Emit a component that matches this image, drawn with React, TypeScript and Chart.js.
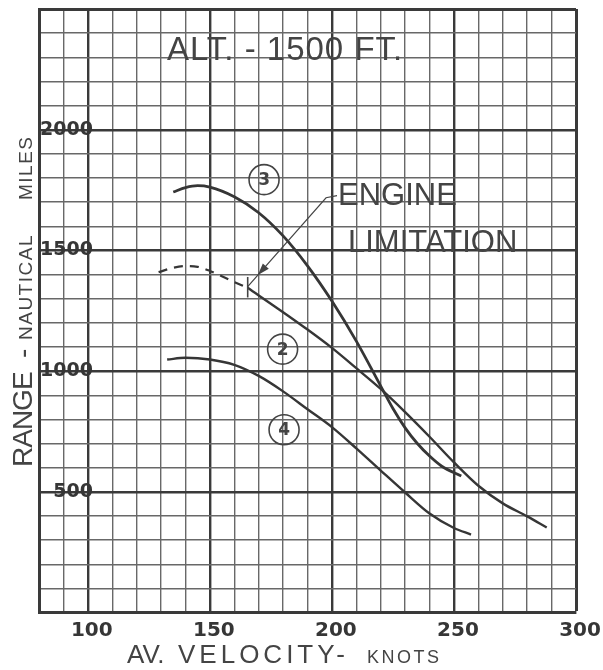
import React, { useEffect, useRef } from 'react';
import { Chart, registerables } from 'chart.js';

Chart.register(...registerables);

// ---- data ----
const curve3Knots = [135, 140, 145, 150, 160, 170, 180, 190, 200, 210, 220, 225, 230, 235, 240, 245, 253];
const curve3Range = [1742, 1760, 1768, 1762, 1722, 1656, 1560, 1436, 1290, 1124, 938, 845, 765, 700, 648, 606, 565];

const curve2DashKnots = [129, 135, 140, 145, 150, 158, 165.5];
const curve2DashRange = [1410, 1428, 1435, 1432, 1415, 1378, 1345];

const curve2Knots = [165.5, 180, 190, 200, 210, 220, 230, 240, 250, 260, 270, 280, 288];
const curve2Range = [1345, 1244, 1172, 1096, 1012, 926, 830, 728, 622, 525, 452, 398, 352];

const curve4Knots = [132.5, 140, 150, 160, 170, 180, 190, 200, 210, 220, 230, 240, 250, 257];
const curve4Range = [1048, 1055, 1048, 1026, 980, 916, 842, 768, 680, 588, 497, 410, 350, 323];

const xTickLabels = [100, 150, 200, 250, 300];
const yTickLabels = [500, 1000, 1500, 2000];

const titleText = 'ALT. - 1500 FT.';
const engineLimitKnots = 165.5;
const engineLimitRange = 1345;

const INK = '#363636';
const LETTER = '#444444';
const THIN = '#686868';
const THICK = '#3a3a3a';

const toPoints = (xs: number[], ys: number[]) => xs.map((x, i) => ({ x, y: ys[i] }));

const annotations = {
  id: 'annotations',
  beforeDraw(chart: any) {
    const { ctx, width, height } = chart;
    ctx.save();
    ctx.fillStyle = '#ffffff';
    ctx.fillRect(0, 0, width, height);
    ctx.restore();
  },
  afterDatasetsDraw(chart: any) {
    const { ctx } = chart;
    const xs = chart.scales.x;
    const ys = chart.scales.y;
    const px = (v: number) => xs.getPixelForValue(v);
    const py = (v: number) => ys.getPixelForValue(v);
    ctx.save();
    ctx.fillStyle = LETTER;
    ctx.strokeStyle = LETTER;
    ctx.textBaseline = 'alphabetic';

    // title
    ctx.font = '33px "Liberation Sans"';
    ctx.textAlign = 'center';
    (ctx as any).letterSpacing = '1px';
    ctx.fillText(titleText, px(180.8), py(2290));

    // engine limitation text
    ctx.textAlign = 'left';
    (ctx as any).letterSpacing = '0px';
    ctx.font = '31px "Liberation Sans"';
    ctx.fillText('ENGINE', px(202.5), py(1690));
    ctx.fillText('LIMITATION', px(206.6), py(1495));

    // leader line with arrow
    const p0 = [px(202.1), py(1727)];
    const p1 = [px(197.6), py(1718)];
    const p2 = [px(engineLimitKnots), py(engineLimitRange + 5)];
    ctx.lineWidth = 1.2;
    ctx.beginPath();
    ctx.moveTo(p0[0], p0[1]);
    ctx.lineTo(p1[0], p1[1]);
    ctx.lineTo(p2[0], p2[1]);
    ctx.stroke();
    const dx = p2[0] - p1[0];
    const dy = p2[1] - p1[1];
    const len = Math.hypot(dx, dy);
    const ux = dx / len, uy = dy / len;
    const tip = [p1[0] + dx * 0.87, p1[1] + dy * 0.87];
    const base = [tip[0] - ux * 12, tip[1] - uy * 12];
    ctx.beginPath();
    ctx.moveTo(tip[0], tip[1]);
    ctx.lineTo(base[0] - uy * 4, base[1] + ux * 4);
    ctx.lineTo(base[0] + uy * 4, base[1] - ux * 4);
    ctx.closePath();
    ctx.fill();

    // engine limit tick
    ctx.lineWidth = 1.6;
    ctx.beginPath();
    ctx.moveTo(px(engineLimitKnots), py(1390));
    ctx.lineTo(px(engineLimitKnots), py(1305));
    ctx.stroke();

    // circled curve numbers
    const circles: [string, number, number][] = [
      ['3', 172.2, 1793],
      ['2', 179.8, 1091],
      ['4', 180.4, 757],
    ];
    ctx.font = 'bold 17px "DejaVu Sans"';
    ctx.textAlign = 'center';
    ctx.textBaseline = 'middle';
    ctx.lineWidth = 1.6;
    for (const [label, kx, ry] of circles) {
      const cx = px(kx), cy = py(ry);
      ctx.beginPath();
      ctx.arc(cx, cy, 15, 0, Math.PI * 2);
      ctx.stroke();
      ctx.fillText(label, cx, cy + 1);
    }
    ctx.restore();
  },
  afterDraw(chart: any) {
    const { ctx } = chart;
    ctx.save();
    ctx.fillStyle = LETTER;
    ctx.textBaseline = 'alphabetic';
    ctx.textAlign = 'left';

    // x axis title
    ctx.font = '26px "Liberation Sans"';
    (ctx as any).letterSpacing = '0px';
    ctx.fillText('AV.', 127, 663);
    (ctx as any).letterSpacing = '4px';
    ctx.fillText('VELOCITY-', 178, 663);
    ctx.font = '18px "Liberation Sans"';
    (ctx as any).letterSpacing = '2.5px';
    ctx.fillText('KNOTS', 367, 663);

    // y axis title (rotated)
    ctx.translate(32, 467);
    ctx.rotate(-Math.PI / 2);
    ctx.font = '28px "Liberation Sans"';
    (ctx as any).letterSpacing = '-1px';
    ctx.fillText('RANGE', 0, 0);
    (ctx as any).letterSpacing = '0px';
    ctx.fillText('-', 109, 0);
    ctx.font = '19px "Liberation Sans"';
    (ctx as any).letterSpacing = '1.5px';
    ctx.fillText('NAUTICAL', 127, 0);
    ctx.fillText('MILES', 267, 0);
    ctx.restore();
  },
};

export default function App() {
  const canvasRef = useRef<HTMLCanvasElement | null>(null);

  useEffect(() => {
    if (!canvasRef.current) return;
    const lineBase = {
      showLine: true,
      pointRadius: 0,
      borderColor: INK,
      backgroundColor: INK,
      cubicInterpolationMode: 'monotone' as const,
      fill: false,
    };
    const chart = new Chart(canvasRef.current, {
      type: 'scatter',
      data: {
        datasets: [
          { ...lineBase, label: 'Curve 3', data: toPoints(curve3Knots, curve3Range), borderWidth: 2.8 },
          { ...lineBase, label: 'Curve 2 (beyond engine limit)', data: toPoints(curve2DashKnots, curve2DashRange), borderWidth: 2.2, borderDash: [9, 7] },
          { ...lineBase, label: 'Curve 2', data: toPoints(curve2Knots, curve2Range), borderWidth: 2.4 },
          { ...lineBase, label: 'Curve 4', data: toPoints(curve4Knots, curve4Range), borderWidth: 2.4 },
        ],
      },
      options: {
        responsive: false,
        animation: false,
        devicePixelRatio: 1,
        layout: { padding: { left: 0, right: 27, top: 9, bottom: 0 } },
        plugins: {
          legend: { display: false },
          tooltip: { enabled: false },
          title: { display: false },
        },
        scales: {
          x: {
            type: 'linear',
            min: 80,
            max: 300,
            ticks: {
              stepSize: 10,
              autoSkip: false,
              maxRotation: 0,
              padding: 6,
              labelOffset: 4,
              color: INK,
              font: { family: 'DejaVu Sans', weight: 'bold', size: 20 },
              callback: (v: any) => (xTickLabels.includes(Number(v)) ? String(v) : ''),
            },
            grid: {
              drawTicks: false,
              color: (c: any) => (c.tick && c.tick.value % 50 === 0 ? THICK : THIN),
              lineWidth: (c: any) => (c.tick && c.tick.value === 300 ? 3 : c.tick && c.tick.value % 50 === 0 ? 2.4 : 1.4),
            },
            border: { display: true, width: 3, color: THICK },
            afterFit: (s: any) => {
              s.height = 57.5;
              s.paddingLeft = 0;
              s.paddingRight = 0;
            },
          },
          y: {
            type: 'linear',
            min: 0,
            max: 2500,
            ticks: {
              stepSize: 100,
              autoSkip: false,
              mirror: true,
              crossAlign: 'far',
              padding: 1,
              color: INK,
              font: { family: 'DejaVu Sans', weight: 'bold', size: 19 },
              callback: (v: any) => (yTickLabels.includes(Number(v)) ? String(v) : ''),
            },
            grid: {
              drawTicks: false,
              color: (c: any) => (c.tick && c.tick.value % 500 === 0 ? THICK : THIN),
              lineWidth: (c: any) => (c.tick && c.tick.value === 2500 ? 3 : c.tick && c.tick.value % 500 === 0 ? 2.4 : 1.4),
            },
            border: { display: true, width: 3, color: THICK },
            afterFit: (s: any) => {
              s.width = 39;
              s.paddingTop = 0;
              s.paddingBottom = 0;
            },
          },
        },
      } as any,
      plugins: [annotations],
    });
    return () => chart.destroy();
  }, []);

  return (
    <div style={{ position: 'fixed', left: 0, top: 0, width: 603, height: 670, background: '#fff' }}>
      <canvas ref={canvasRef} width={603} height={670} style={{ display: 'block', width: 603, height: 670 }} />
    </div>
  );
}
